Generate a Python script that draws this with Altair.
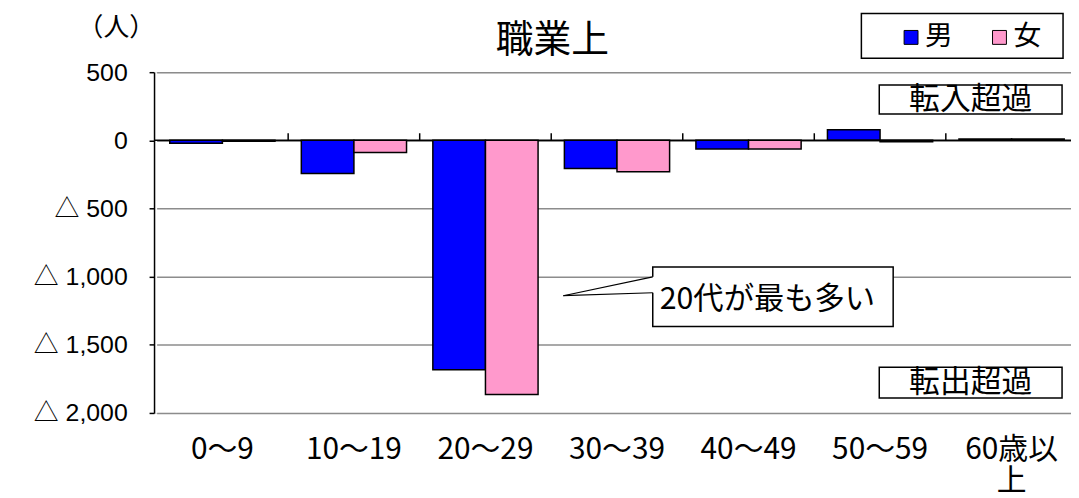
import altair as alt
import pandas as pd

categories = ["0～9", "10～19", "20～29", "30～39", "40～49", "50～59", "60歳以上"]
male = [-22, -243, -1683, -207, -63, 77, 10]
female = [-6, -89, -1864, -231, -63, -10, 10]
sexes = ["男", "女"]
colors = ["#0000FF", "#FF99CC"]
y_ticks = [500, 0, -500, -1000, -1500, -2000]

rows = []
for c, m, f in zip(categories, male, female):
    rows.append({"cat": c, "sex": "男", "value": m})
    rows.append({"cat": c, "sex": "女", "value": f})
df = pd.DataFrame(rows)

W, H = 923, 343
CJK = "Noto Sans CJK JP"

x_scale = alt.Scale(domain=categories, range=[2.6, 929.4], paddingInner=0, paddingOuter=0)
y_scale = alt.Scale(domain=[-2000, 500], nice=False, zero=False)
x_axis = alt.Axis(
    title=None, domain=False, ticks=False, tickSize=0, labelAngle=0,
    labelFont=CJK, labelFontSize=30, labelColor="black", labelPadding=22,
    labelLineHeight=31,
    labelExpr="datum.label == '60歳以上' ? ['60歳以', '上'] : datum.label",
)
y_axis = alt.Axis(
    title=None, values=y_ticks, grid=True, gridColor="#8c8c8c", gridWidth=1.5,
    domainColor="black", domainWidth=1.5, tickColor="black", tickWidth=1.5, tickSize=5,
    labelFont="Liberation Sans, Noto Sans CJK JP", labelFontSize=25, labelColor="black",
    labelPadding=22,
    labelExpr="datum.value < 0 ? '△  ' + format(-datum.value, ',') : format(datum.value, ',')",
)

bars = alt.Chart(df).mark_bar(stroke="black", strokeWidth=1.5).encode(
    x=alt.X("cat:N", scale=x_scale, axis=x_axis, sort=categories),
    xOffset=alt.XOffset("sex:N", scale=alt.Scale(domain=sexes, paddingInner=0, paddingOuter=0.25), sort=sexes),
    y=alt.Y("value:Q", scale=y_scale, axis=y_axis),
    color=alt.Color(
        "sex:N",
        scale=alt.Scale(domain=sexes, range=colors),
        legend=alt.Legend(
            orient="none", legendX=748, legendY=-49, direction="horizontal", title=None,
            symbolType="square", symbolSize=196, symbolStrokeColor="black", symbolStrokeWidth=1,
            symbolOpacity=1, labelFont=CJK, labelFontSize=28, labelColor="black",
            labelOffset=0, columnPadding=32, padding=0,
        ),
    ),
)

one = pd.DataFrame({"a": [0]})

zero_rule = alt.Chart(one).mark_rule(color="black", strokeWidth=1.5).encode(
    y=alt.datum(0, scale=y_scale)
)

tick_df = pd.DataFrame({"cat": categories[1:]})
zero_ticks = alt.Chart(tick_df).mark_rule(color="black", strokeWidth=1.5).encode(
    x=alt.X("cat:N", scale=x_scale, axis=x_axis, sort=categories, bandPosition=0),
    y=alt.datum(0),
    y2=alt.datum(52),
)

def box(x1, x2, y1, y2):
    return alt.Chart(one).mark_rect(fill="white", stroke="black", strokeWidth=1.5).encode(
        x=alt.value(x1), x2=alt.value(x2), y=alt.value(y1), y2=alt.value(y2)
    )

def label(txt, x, y, size, align="center", font=CJK):
    return alt.Chart(one).mark_text(
        text=txt, font=font, fontSize=size, color="black", align=align, baseline="middle"
    ).encode(x=alt.value(x), y=alt.value(y))

legend_box = box(712, 915, -59, -14)
in_box = box(730, 914, 13, 42)
out_box = box(730, 914, 297, 328)
call_box = box(502, 744, 196, 256)
cover = alt.Chart(one).mark_rule(color="white", strokeWidth=3).encode(
    x=alt.value(502), x2=alt.value(502), y=alt.value(206), y2=alt.value(222)
)
ptr1 = alt.Chart(one).mark_rule(color="black", strokeWidth=1.2).encode(
    x=alt.value(412), x2=alt.value(502), y=alt.value(225), y2=alt.value(206)
)
ptr2 = alt.Chart(one).mark_rule(color="black", strokeWidth=1.2).encode(
    x=alt.value(412), x2=alt.value(502), y=alt.value(225), y2=alt.value(222)
)

chart = alt.layer(
    bars, zero_rule, zero_ticks,
    legend_box,
    in_box, label("転入超過", 822, 28, 31),
    out_box, label("転出超過", 822, 313, 31),
    call_box, cover, ptr1, ptr2, label("20代が最も多い", 509, 229, 30.5, align="left"),
    label("職業上", 401, -31, 38),
    label("（人）", -38, -44, 26),
).properties(
    width=W, height=H,
    autosize=alt.AutoSizeParams(type="none"),
    padding={"left": 147, "top": 63, "right": 0, "bottom": 84},
).configure_view(stroke=None).configure(background="white")

chart.save("out.html", embed_options={"renderer": "svg", "actions": False})
